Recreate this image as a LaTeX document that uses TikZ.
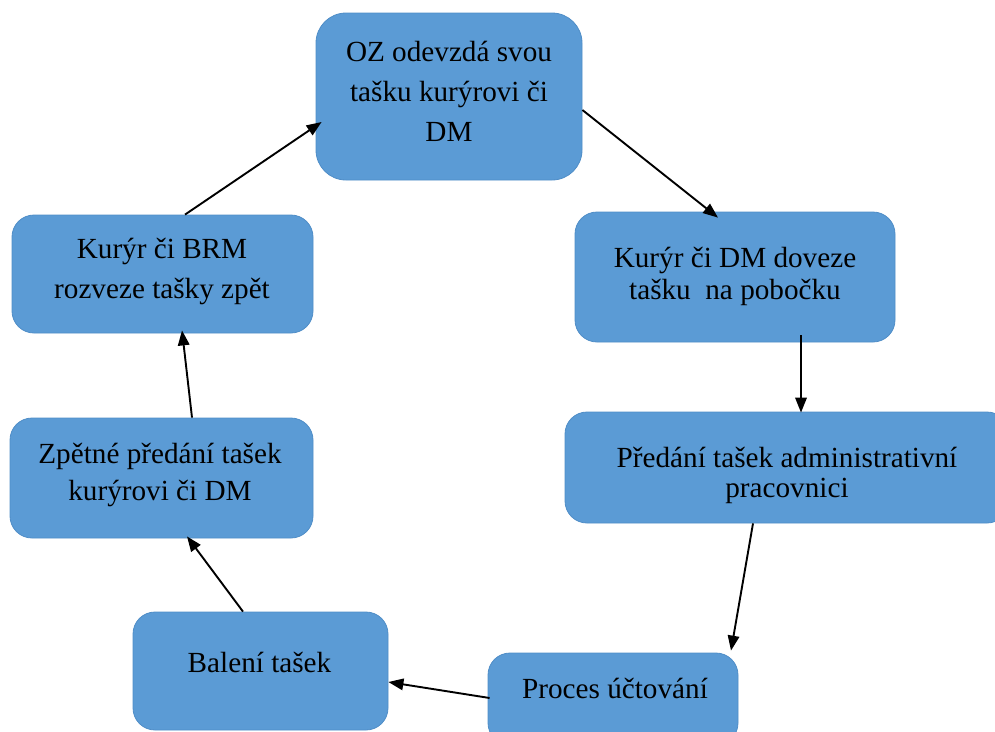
\documentclass[tikz,border=0pt]{standalone}
\usepackage{fontspec}
\setmainfont{Liberation Serif}
\usetikzlibrary{arrows.meta}
\definecolor{boxfill}{HTML}{5B9BD5}
\definecolor{boxline}{HTML}{4F8DC7}
\tikzset{
  stepbox/.style={draw=boxline, line width=0.8pt, fill=boxfill, rounded corners=22pt, inner sep=0pt},
  steptext/.style={align=center, font=\fontsize{29.2}{#1}\selectfont, inner sep=0pt, text=black},
  steptext/.default=36,
  flow/.style={line width=1.9pt, -{Triangle[length=15pt,width=11.5pt]}}
}
\begin{document}
\begin{tikzpicture}[x=1pt, y=-1pt]
\useasboundingbox (0,0) rectangle (995,731);
\clip (0,0) rectangle (995,731);
% process boxes
\node[stepbox, rounded corners=30pt, minimum width=266pt, minimum height=167pt] (b1) at (449,96.5) {};
\node[stepbox, minimum width=320pt, minimum height=130pt] (b2) at (735,277) {};
\node[stepbox, minimum width=444pt, minimum height=111pt] (b3) at (787,467.5) {};
\node[stepbox, minimum width=250pt, minimum height=92pt] (b4) at (613,699) {};
\node[stepbox, minimum width=255pt, minimum height=118pt] (b5) at (260.5,671) {};
\node[stepbox, minimum width=301pt, minimum height=118pt] (b6) at (162.5,274) {};
\node[stepbox, minimum width=303pt, minimum height=120pt] (b7) at (161.5,478) {};
% box texts
\node[steptext=40] (t1) at (449,91) {OZ odevzdá svou\\tašku kurýrovi či\\DM};
\node[steptext=32] (t2) at (735,276) {Kurýr či DM doveze\\tašku\ \ na pobočku};
\node[steptext=30] (t3) at (787,475) {Předání tašek administrativní\\pracovnici};
\node[steptext] (t4) at (615,688) {Proces účtování};
\node[steptext] (t5) at (259.5,662) {Balení tašek};
\node[steptext=40] (t6) at (162,271) {Kurýr či BRM\\rozveze tašky zpět};
\node[steptext=37] (t7) at (160,475) {Zpětné předání tašek\\kurýrovi či DM};
% cycle of arrows
\draw[flow] ([yshift=-13.5pt]b1.east) -- ([xshift=-17pt,yshift=-6pt]b2.north);
\draw[flow] ([xshift=66pt,yshift=7pt]b2.south) -- ([xshift=14pt,yshift=-1pt]b3.north);
\draw[flow] ([xshift=-34pt]b3.south) -- ([xshift=118pt,yshift=2pt]b4.north);
\draw[flow] ([xshift=2pt,yshift=1pt]b4.west) -- ([yshift=-11pt]b5.east);
\draw[flow] ([xshift=-17.5pt]b5.north) -- ([xshift=25.5pt,yshift=2pt]b7.south);
\draw[flow] ([xshift=30.5pt]b7.north) -- ([xshift=19.5pt,yshift=3pt]b6.south);
\draw[flow] ([xshift=22.5pt]b6.north) -- ([xshift=6pt,yshift=-25.5pt]b1.west);
\end{tikzpicture}
\end{document}
